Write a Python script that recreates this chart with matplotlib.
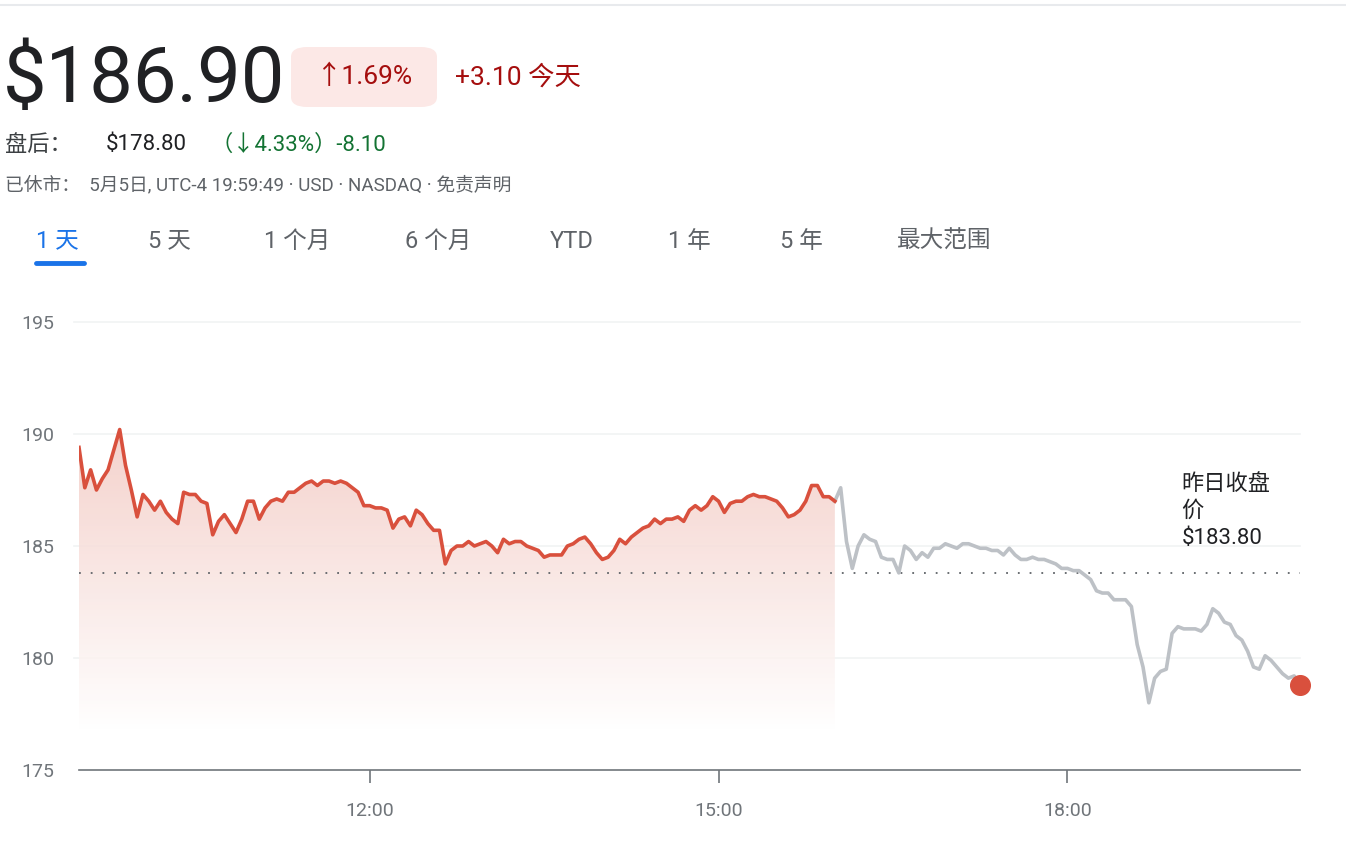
import matplotlib.pyplot as plt
import numpy as np
from matplotlib.patches import FancyBboxPatch

plt.rcParams['font.family'] = ['Roboto', 'Noto Sans CJK SC', 'DejaVu Sans']

# 正常交易时段 9:30-16:00，每 3 分钟一个点
regular_prices = [
    189.4, 187.6, 188.4, 187.5, 188.0, 188.4, 189.3, 190.2, 188.6, 187.5,
    186.3, 187.3, 187.0, 186.6, 187.0, 186.5, 186.2, 186.0, 187.4, 187.3,
    187.3, 187.0, 186.9, 185.5, 186.1, 186.4, 186.0, 185.6, 186.2, 187.0,
    187.0, 186.2, 186.7, 187.0, 187.1, 187.0, 187.4, 187.4, 187.6, 187.8,
    187.9, 187.7, 187.9, 187.9, 187.8, 187.9, 187.8, 187.6, 187.4, 186.8,
    186.8, 186.7, 186.7, 186.6, 185.8, 186.2, 186.3, 185.9, 186.6, 186.4,
    186.0, 185.7, 185.7, 184.2, 184.8, 185.0, 185.0, 185.2, 185.0, 185.1,
    185.2, 185.0, 184.7, 185.3, 185.1, 185.2, 185.2, 185.0, 184.9, 184.8,
    184.5, 184.6, 184.6, 184.6, 185.0, 185.1, 185.3, 185.4, 185.1, 184.7,
    184.4, 184.5, 184.8, 185.3, 185.1, 185.4, 185.6, 185.8, 185.9, 186.2,
    186.0, 186.2, 186.2, 186.3, 186.1, 186.6, 186.8, 186.6, 186.8, 187.2,
    187.0, 186.5, 186.9, 187.0, 187.0, 187.2, 187.3, 187.2, 187.2, 187.1,
    187.0, 186.7, 186.3, 186.4, 186.6, 187.0, 187.7, 187.7, 187.2, 187.2,
    187.0,
]
# 盘后 16:00-20:00，每 3 分钟一个点
after_prices = [
    187.0, 187.6, 185.2, 184.0, 185.0, 185.5, 185.3, 185.2, 184.5, 184.4,
    184.4, 183.8, 185.0, 184.8, 184.4, 184.7, 184.5, 184.9, 184.9, 185.1,
    185.0, 184.9, 185.1, 185.1, 185.0, 184.9, 184.9, 184.8, 184.8, 184.6,
    184.9, 184.6, 184.4, 184.4, 184.5, 184.4, 184.4, 184.3, 184.2, 184.0,
    184.0, 183.9, 183.9, 183.7, 183.5, 183.0, 182.9, 182.9, 182.6, 182.6,
    182.6, 182.3, 180.6, 179.6, 178.0, 179.1, 179.4, 179.5, 181.1, 181.4,
    181.3, 181.3, 181.3, 181.2, 181.5, 182.2, 182.0, 181.6, 181.5, 181.0,
    180.8, 180.3, 179.6, 179.5, 180.1, 179.9, 179.6, 179.3, 179.1, 179.2,
    178.8,
]
prev_close = 183.80
y_ticks = [175, 180, 185, 190, 195]
x_ticks = [12, 15, 18]
x_labels = ['12:00', '15:00', '18:00']
tabs = ['1 天', '5 天', '1 个月', '6 个月', 'YTD', '1 年', '5 年', '最大范围']

t_reg = 9.5 + np.arange(len(regular_prices)) * 3 / 60
t_aft = 16 + np.arange(len(after_prices)) * 3 / 60

RED = '#d9503d'
GREY = '#bdc1c6'

fig = plt.figure(figsize=(13.46, 8.42), dpi=100)
W, H = 1346, 842

# 顶部细线
fig.add_artist(plt.Line2D([0, 1], [1 - 5 / H, 1 - 5 / H], color='#e8eaed', lw=1.5))

# 标题区
fig.text(3 / W, 1 - 80 / H, '$186.90', fontsize=56, color='#202124', va='center')
pill = FancyBboxPatch((291 / W, 1 - 107 / H), 146 / W, 60 / H,
                      boxstyle='round,pad=0,rounding_size=0.012',
                      transform=fig.transFigure, fc='#fce8e6', ec='none')
fig.add_artist(pill)
fig.text(364 / W, 1 - 77 / H, '↑1.69%', fontsize=19, color='#a50e0e', ha='center', va='center')
fig.text(455 / W, 1 - 77 / H, '+3.10 今天', fontsize=19, color='#a50e0e', va='center')

fig.text(5 / W, 1 - 145 / H, '盘后：', fontsize=16, color='#3c4043', va='center')
fig.text(106 / W, 1 - 145 / H, '$178.80', fontsize=16, color='#202124', va='center')
fig.text(210 / W, 1 - 145 / H, '（↓4.33%）-8.10', fontsize=16, color='#137333', va='center')
fig.text(5 / W, 1 - 185 / H, '已休市：  5月5日, UTC-4 19:59:49 · USD · NASDAQ · 免责声明',
         fontsize=13.5, color='#5f6368', va='center')

tab_x = [36, 148, 264, 405, 550, 668, 780, 897]
for i, (tx, lab) in enumerate(zip(tab_x, tabs)):
    fig.text(tx / W, 1 - 241 / H, lab, fontsize=17,
             color='#1a73e8' if i == 0 else '#5f6368', va='center')
fig.add_artist(plt.Line2D([36 / W, 84 / W], [1 - 263 / H, 1 - 263 / H],
                          color='#1a73e8', lw=3.5, solid_capstyle='round'))

# 图表区
ax = fig.add_axes([79 / W, 72 / H, (1300 - 79) / W, (770 - 299.6) / H])
ax.set_xlim(9.5, 20)
ax.set_ylim(175, 196)

for v in y_ticks[1:]:
    ax.axhline(v, xmin=-0.004, color='#f1f3f4', lw=1.2, zorder=0, clip_on=False)

# 渐变填充
grad = np.linspace(0, 1, 256).reshape(-1, 1)
cmap = plt.matplotlib.colors.LinearSegmentedColormap.from_list('g', ['#ffffff', '#f3c9c2'])
im = ax.imshow(grad, extent=[9.5, 16, 176.8, 190.5], origin='lower', cmap=cmap,
               aspect='auto', zorder=1, alpha=0.85)
poly = ax.fill_between(np.r_[t_reg], regular_prices, 176.8, color='none')
im.set_clip_path(poly.get_paths()[0], transform=ax.transData)

ax.axhline(prev_close, color='#5f6368', lw=1.3, ls=(0, (1, 5.5)), zorder=2)
ax.plot(t_aft, after_prices, color=GREY, lw=2.6, zorder=3)
ax.plot(t_reg, regular_prices, color=RED, lw=2.6, zorder=4)
ax.scatter([t_aft[-1]], [after_prices[-1]], s=200, color=RED, zorder=5, clip_on=False)

ax.text(0.903, 0.63, '昨日收盘\n价\n$183.80', transform=ax.transAxes, fontsize=16,
        color='#202124', va='top', linespacing=1.4)

for s in ['top', 'right', 'left']:
    ax.spines[s].set_visible(False)
ax.spines['bottom'].set_color('#70757a')
ax.spines['bottom'].set_linewidth(1.2)
ax.set_yticks(y_ticks)
ax.set_yticklabels([str(v) for v in y_ticks], fontsize=14, color='#70757a')
ax.tick_params(axis='y', length=0, pad=18)
ax.set_xticks(x_ticks)
ax.set_xticklabels(x_labels, fontsize=14, color='#70757a')
ax.tick_params(axis='x', length=9, width=1.2, color='#70757a', pad=14)

fig.savefig('out.png', dpi=100, facecolor='white')
